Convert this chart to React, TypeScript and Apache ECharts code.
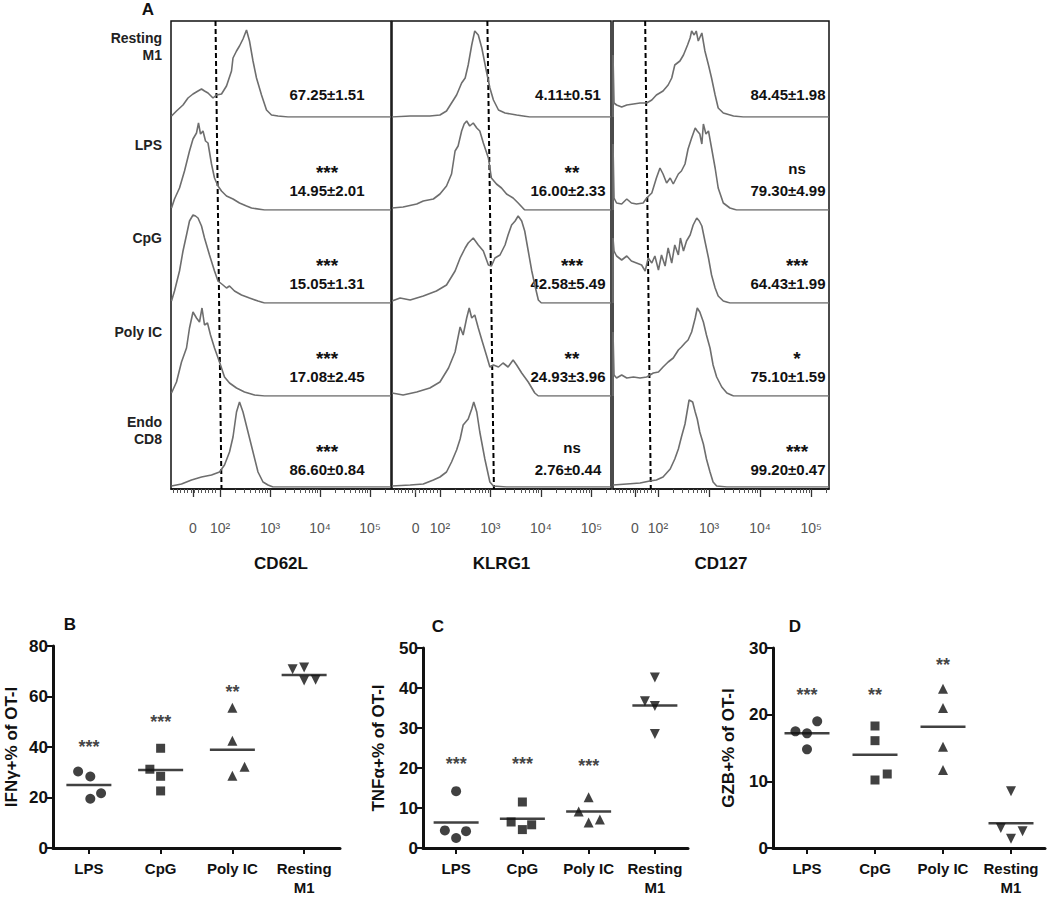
import React, { useEffect, useRef } from 'react';
import * as echarts from 'echarts';

// ---------- Panel A data (x in decades: 2 = 10^2 ... ; y = event count, arbitrary) ----------
const ROW_NAMES = [['Resting', 'M1'], ['LPS'], ['CpG'], ['Poly IC'], ['Endo', 'CD8']];
const MARKERS = ['CD62L', 'KLRG1', 'CD127'];

const HIST_CD62L = [
  [[1.03,1],[1.13,6],[1.26,12],[1.36,19],[1.46,23],[1.56,26],[1.63,28],[1.69,26],[1.76,24],[1.86,19],[1.93,22],[2.03,23],[2.13,31],[2.23,46],[2.26,59],[2.33,66],[2.39,71],[2.46,78],[2.53,87],[2.59,76],[2.66,56],[2.73,39],[2.83,22],[2.93,7],[3.03,2],[3.16,1],[3.36,0],[5.42,0]],
  [[1.03,2],[1.09,11],[1.19,22],[1.29,39],[1.39,59],[1.46,71],[1.53,77],[1.57,87],[1.61,76],[1.66,79],[1.71,69],[1.76,67],[1.83,46],[1.89,32],[1.96,24],[2.03,19],[2.13,14],[2.26,11],[2.39,7],[2.53,4],[2.63,2],[2.89,0],[5.42,0]],
  [[1.03,2],[1.09,12],[1.19,32],[1.26,52],[1.33,68],[1.39,82],[1.46,88],[1.51,87],[1.56,85],[1.63,77],[1.69,65],[1.79,48],[1.89,32],[1.96,22],[2.06,18],[2.13,15],[2.19,17],[2.29,12],[2.43,8],[2.59,5],[2.76,2],[2.89,0],[5.42,0]],
  [[1.03,3],[1.13,14],[1.23,34],[1.33,48],[1.39,68],[1.46,84],[1.53,78],[1.59,74],[1.64,88],[1.69,71],[1.75,73],[1.81,61],[1.89,48],[1.99,34],[2.09,19],[2.19,13],[2.33,8],[2.49,4],[2.69,1],[2.89,0],[5.42,0]],
  [[1.03,1],[1.23,3],[1.43,7],[1.63,10],[1.83,12],[1.99,15],[2.09,22],[2.19,35],[2.26,50],[2.33,75],[2.39,85],[2.46,75],[2.56,55],[2.66,35],[2.76,15],[2.86,5],[2.96,2],[3.06,0],[5.42,0]],
];
const HIST_KLRG1 = [
  [[1.05,0],[1.41,1],[1.80,1],[2.0,2],[2.13,6],[2.23,14],[2.33,22],[2.43,34],[2.50,39],[2.56,52],[2.63,72],[2.69,86],[2.76,82],[2.83,69],[2.92,46],[2.99,29],[3.06,17],[3.16,7],[3.29,4],[3.52,2],[3.78,0],[5.39,0]],
  [[1.05,2],[1.27,3],[1.54,6],[1.67,9],[1.87,11],[2.0,16],[2.13,24],[2.23,36],[2.30,59],[2.36,64],[2.43,79],[2.48,86],[2.53,89],[2.59,84],[2.66,87],[2.73,82],[2.79,79],[2.86,67],[2.96,52],[3.02,32],[3.12,26],[3.22,22],[3.32,16],[3.45,12],[3.55,7],[3.68,0],[5.39,0]],
  [[1.05,2],[1.21,5],[1.41,3],[1.67,7],[1.93,12],[2.13,18],[2.30,32],[2.40,45],[2.50,55],[2.56,60],[2.66,65],[2.76,58],[2.86,52],[2.96,38],[3.02,37],[3.09,45],[3.19,48],[3.29,58],[3.35,68],[3.42,78],[3.49,82],[3.55,87],[3.62,82],[3.68,72],[3.75,52],[3.82,32],[3.88,18],[3.95,3],[4.01,0],[5.39,0]],
  [[1.05,3],[1.27,1],[1.54,4],[1.80,8],[2.0,14],[2.17,28],[2.30,44],[2.40,69],[2.46,61],[2.53,78],[2.58,88],[2.63,78],[2.69,81],[2.76,68],[2.83,56],[2.92,41],[2.99,29],[3.06,31],[3.16,29],[3.25,33],[3.35,29],[3.45,36],[3.52,31],[3.62,23],[3.75,14],[3.88,3],[3.95,0],[5.39,0]],
  [[1.05,1],[1.41,2],[1.67,3],[1.87,7],[2.0,10],[2.13,15],[2.23,25],[2.33,37],[2.40,48],[2.46,62],[2.56,68],[2.63,78],[2.67,85],[2.73,75],[2.79,55],[2.89,28],[2.99,5],[3.06,1],[3.32,0],[5.39,0]],
];
const HIST_CD127 = [
  [[1.12,0],[1.12,62],[1.14,14],[1.19,12],[1.29,10],[1.39,12],[1.52,13],[1.65,14],[1.78,14],[1.88,17],[1.97,22],[2.10,26],[2.20,32],[2.27,39],[2.33,52],[2.43,56],[2.50,62],[2.58,72],[2.63,79],[2.66,86],[2.71,82],[2.75,86],[2.79,76],[2.86,84],[2.92,66],[2.99,52],[3.05,39],[3.12,22],[3.18,9],[3.28,4],[3.48,1],[3.67,0],[5.35,0]],
  [[1.12,0],[1.12,66],[1.14,12],[1.19,7],[1.29,6],[1.39,11],[1.48,7],[1.58,6],[1.71,7],[1.78,12],[1.88,17],[1.97,32],[2.04,42],[2.10,36],[2.17,27],[2.24,32],[2.30,26],[2.40,36],[2.46,39],[2.53,46],[2.59,61],[2.66,72],[2.73,82],[2.77,79],[2.82,76],[2.86,66],[2.89,86],[2.94,76],[2.99,79],[3.05,62],[3.12,42],[3.18,22],[3.28,7],[3.41,2],[3.54,0],[5.35,0]],
  [[1.12,0],[1.12,65],[1.14,52],[1.19,47],[1.29,43],[1.39,47],[1.48,42],[1.58,40],[1.68,38],[1.75,32],[1.81,45],[1.88,40],[1.94,47],[2.01,33],[2.07,48],[2.14,37],[2.20,55],[2.27,40],[2.33,58],[2.40,48],[2.44,65],[2.50,52],[2.56,62],[2.63,68],[2.69,78],[2.76,85],[2.81,82],[2.86,77],[2.92,62],[2.99,45],[3.05,28],[3.12,15],[3.18,7],[3.28,2],[3.41,0],[5.35,0]],
  [[1.12,0],[1.12,64],[1.14,21],[1.19,18],[1.29,21],[1.39,18],[1.52,19],[1.65,18],[1.78,19],[1.91,23],[2.01,24],[2.10,29],[2.20,34],[2.30,38],[2.40,46],[2.46,49],[2.53,53],[2.59,56],[2.66,64],[2.73,78],[2.77,88],[2.82,84],[2.89,74],[2.95,61],[3.02,48],[3.08,31],[3.15,19],[3.25,9],[3.35,3],[3.48,0],[5.35,0]],
  [[1.12,2],[1.39,3],[1.65,4],[1.84,6],[1.97,7],[2.10,10],[2.24,18],[2.33,28],[2.40,38],[2.46,50],[2.53,63],[2.58,78],[2.61,87],[2.68,85],[2.73,75],[2.77,68],[2.82,55],[2.89,43],[2.95,28],[3.02,15],[3.08,5],[3.15,1],[3.35,0],[5.35,0]],
];
const HISTS = [HIST_CD62L, HIST_KLRG1, HIST_CD127];

// gate line: [decade at top, 1] -> [decade at bottom, 0]
const GATES = [
  [[1.91, 1], [2.03, 0]],
  [[2.94, 1], [3.07, 0]],
  [[1.75, 1], [1.86, 0]],
];

const STAT_VALUES = [
  ['67.25±1.51', '14.95±2.01', '15.05±1.31', '17.08±2.45', '86.60±0.84'],
  ['4.11±0.51', '16.00±2.33', '42.58±5.49', '24.93±3.96', '2.76±0.44'],
  ['84.45±1.98', '79.30±4.99', '64.43±1.99', '75.10±1.59', '99.20±0.47'],
];
const STAT_SIG = [
  ['', '***', '***', '***', '***'],
  ['', '**', '***', '**', 'ns'],
  ['', 'ns', '***', '*', '***'],
];
const DECADE_LABELS: Record<number, string> = { 2: '10²', 3: '10³', 4: '10⁴', 5: '10⁵' };

// ---------- Panels B-D data ----------
const CATS = ['LPS', 'CpG', 'Poly IC', 'Resting\nM1'];
const IFNG = [[30.3, 28.3, 19.5, 21.7], [31.2, 39.5, 28.4, 22.6], [55.5, 42.5, 32.2, 28.6], [70.8, 71.5, 66.3, 66.6]];
const IFNG_MEAN = [25.0, 30.9, 38.9, 68.5];
const IFNG_SIG = ['***', '***', '**', ''];
const IFNG_SIG_Y = [41.4, 51.3, 63.2, 0];

const TNF = [[14.2, 4.4, 2.5, 4.2], [11.5, 6.5, 4.6, 5.8], [12.7, 9.1, 6.4, 7.1], [42.6, 36.7, 35.5, 28.5]];
const TNF_MEAN = [6.4, 7.3, 9.1, 35.6];
const TNF_SIG = ['***', '***', '***', ''];
const TNF_SIG_Y = [22.0, 22.0, 21.6, 0];

const GZB = [[17.5, 17.2, 19.0, 14.8], [18.3, 16.1, 10.2, 11.1], [23.9, 21.0, 15.2, 11.7], [8.5, 3.0, 1.4, 2.5]];
const GZB_MEAN = [17.2, 14.0, 18.2, 3.7];
const GZB_SIG = ['***', '**', '**', ''];
const GZB_SIG_Y = [23.6, 23.6, 28.0, 0];

// ---------- layout (positions / styles) ----------
const FONT = '"Liberation Sans", Arial, Helvetica, sans-serif';
const A_TOP = 21;
const A_BOTTOM = 489;
const ROW_BASE = [117, 210, 303, 396, 487];
const ROW_H = 95;
const A_COLS = [
  { left: 171, width: 220, min: 1.02, max: 5.42, zero: 1.46, textX: 327, sigX: 327 },
  { left: 392, width: 219, min: 1.05, max: 5.39, zero: 1.52, textX: 568, sigX: 572 },
  { left: 613, width: 216, min: 1.12, max: 5.35, zero: 1.55, textX: 788, sigX: 797 },
];
const ROW_LABEL_Y = [[38, 55], [145], [238], [332], [422, 439]];

const JITTER = [
  [[-0.15, 0.02, 0.02, 0.17], [-0.15, 0, 0, 0], [0, 0, 0.17, 0], [-0.16, 0, 0, 0.16]],
  [[0, -0.17, 0, 0.15], [0, -0.17, 0, 0.14], [0, -0.15, 0, 0.17], [0, -0.15, 0, 0]],
  [[-0.17, 0, 0.15, 0], [0, 0, 0, 0.18], [0, 0, 0, 0], [0, -0.15, 0, 0.17]],
];
const SYMBOLS = [
  { symbol: 'circle', size: 10, rotate: 0 },
  { symbol: 'rect', size: 9, rotate: 0 },
  { symbol: 'triangle', size: 10, rotate: 0 },
  { symbol: 'triangle', size: 10, rotate: 180 },
];
const PANELS = [
  { letter: 'B', values: IFNG, mean: IFNG_MEAN, sig: IFNG_SIG, sigY: IFNG_SIG_Y, max: 80, interval: 20, name: 'IFNγ+% of OT-I',
    left: 53, top: 646, width: 287, height: 209, nameGap: 33, letterX: 70 },
  { letter: 'C', values: TNF, mean: TNF_MEAN, sig: TNF_SIG, sigY: TNF_SIG_Y, max: 50, interval: 10, name: 'TNFα+% of OT-I',
    left: 423, top: 648, width: 265, height: 205, nameGap: 36, letterX: 438 },
  { letter: 'D', values: GZB, mean: GZB_MEAN, sig: GZB_SIG, sigY: GZB_SIG_Y, max: 30, interval: 10, name: 'GZB+% of OT-I',
    left: 773, top: 648, width: 272, height: 204, nameGap: 36, letterX: 795 },
];

function buildOption() {
  const grid: any[] = [];
  const xAxis: any[] = [];
  const yAxis: any[] = [];
  const series: any[] = [];
  const graphic: any[] = [];

  A_COLS.forEach((col, c) => {
    const gi = grid.length;
    grid.push({ left: col.left, top: A_TOP, width: col.width, height: A_BOTTOM - A_TOP,
      show: true, borderColor: '#111', borderWidth: 1.5, backgroundColor: 'transparent' });
    const majors = [col.zero, 2, 3, 4, 5];
    const minors: number[] = [];
    for (let n = 2; n <= 5; n++) for (let k = 2; k <= 9; k++) {
      const v = n + Math.log10(k);
      if (v < col.max - 0.01) minors.push(v);
    }
    for (let v = col.min + 0.05; v < 1.97; v += 0.07) minors.push(v);
    const xi = xAxis.length;
    xAxis.push({
      gridIndex: gi, type: 'value', min: col.min, max: col.max, position: 'bottom',
      axisLine: { show: true, onZero: false, lineStyle: { color: '#111', width: 1.5 } },
      axisTick: { show: true, customValues: majors, length: 8, lineStyle: { color: '#333', width: 1.3 } },
      axisLabel: {
        show: true, customValues: majors, margin: 32, color: '#555', fontSize: 14, fontFamily: FONT,
        formatter: (v: number) => (Math.abs(v - col.zero) < 1e-6 ? '0' : DECADE_LABELS[Math.round(v)] || ''),
      },
      splitLine: { show: false },
      name: MARKERS[c], nameLocation: 'middle', nameGap: 66,
      nameTextStyle: { fontWeight: 'bold', fontSize: 17, color: '#111', fontFamily: FONT },
    });
    xAxis.push({
      gridIndex: gi, type: 'value', min: col.min, max: col.max, position: 'bottom',
      axisLine: { show: false, onZero: false },
      axisTick: { show: true, customValues: minors, length: 4, lineStyle: { color: '#555', width: 1 } },
      axisLabel: { show: false }, splitLine: { show: false },
    });
    const yi = yAxis.length;
    yAxis.push({ gridIndex: gi, type: 'value', min: 0, max: 1, show: false });
    series.push({ type: 'line', xAxisIndex: xi, yAxisIndex: yi, data: GATES[c], symbol: 'none', silent: true,
      lineStyle: { type: [5, 3], color: '#000', width: 2 } });

    HISTS[c].forEach((h, r) => {
      const g = grid.length;
      grid.push({ left: col.left, top: ROW_BASE[r] - ROW_H, width: col.width, height: ROW_H });
      const x = xAxis.length;
      xAxis.push({ gridIndex: g, type: 'value', min: col.min, max: col.max, show: false });
      const y = yAxis.length;
      yAxis.push({ gridIndex: g, type: 'value', min: 0, max: ROW_H, show: false });
      series.push({ type: 'line', xAxisIndex: x, yAxisIndex: y, data: h, symbol: 'none', silent: true,
        lineStyle: { color: '#6e6e6e', width: 1.6 } });

      // stats text
      const valY = (r === 0 ? A_TOP : ROW_BASE[r - 1]) + 73;
      graphic.push({ type: 'text', x: col.textX, y: valY,
        style: { text: STAT_VALUES[c][r], font: `bold 15px ${FONT}`, fill: '#111', align: 'center', verticalAlign: 'middle' } });
      const sig = STAT_SIG[c][r];
      if (sig) {
        const isNs = sig === 'ns';
        graphic.push({ type: 'text', x: col.sigX, y: valY - (isNs ? 22 : 18),
          style: { text: sig, font: `bold ${isNs ? 15 : 19}px ${FONT}`, fill: '#111', align: 'center', verticalAlign: 'middle' } });
      }
    });
  });

  // row labels
  ROW_NAMES.forEach((lines, r) => {
    lines.forEach((t, i) => {
      graphic.push({ type: 'text', x: 162, y: ROW_LABEL_Y[r][i],
        style: { text: t, font: `bold 14px ${FONT}`, fill: '#222', align: 'right', verticalAlign: 'middle' } });
    });
  });
  graphic.push({ type: 'text', x: 148, y: 9,
    style: { text: 'A', font: `bold 17px ${FONT}`, fill: '#111', align: 'center', verticalAlign: 'middle' } });

  PANELS.forEach((p, pi) => {
    const gi = grid.length;
    grid.push({ left: p.left, top: p.top, width: p.width, height: p.height });
    xAxis.push({
      gridIndex: gi, type: 'category', data: CATS, boundaryGap: true, position: 'bottom',
      axisLine: { show: true, onZero: false, lineStyle: { color: '#111', width: 3 } },
      axisTick: { show: true, alignWithLabel: true, length: 6, lineStyle: { color: '#111', width: 2 } },
      axisLabel: { interval: 0, color: '#111', fontWeight: 'bold', fontSize: 15, lineHeight: 19, margin: 11, fontFamily: FONT },
      splitLine: { show: false },
    });
    const vx = xAxis.length;
    xAxis.push({ gridIndex: gi, type: 'value', min: -0.5, max: 3.5, show: false, axisLine: { onZero: false } });
    const yi = yAxis.length;
    yAxis.push({
      gridIndex: gi, type: 'value', min: 0, max: p.max, interval: p.interval, position: 'left',
      axisLine: { show: true, onZero: false, lineStyle: { color: '#111', width: 3 } },
      axisTick: { show: true, length: 6, lineStyle: { color: '#111', width: 2 } },
      axisLabel: { color: '#111', fontWeight: 'bold', fontSize: 17, margin: 5, fontFamily: FONT },
      splitLine: { show: false },
      name: p.name, nameLocation: 'middle', nameGap: p.nameGap, nameRotate: 90,
      nameTextStyle: { fontWeight: 'bold', fontSize: 17, color: '#111', fontFamily: FONT },
    });
    p.values.forEach((vals, g) => {
      const s = SYMBOLS[g];
      series.push({
        type: 'scatter', xAxisIndex: vx, yAxisIndex: yi, silent: true,
        symbol: s.symbol, symbolSize: s.size, symbolRotate: s.rotate,
        itemStyle: { color: '#111' },
        data: vals.map((v, i) => [g + JITTER[pi][g][i], v]),
      });
    });
    series.push({
      type: 'scatter', xAxisIndex: vx, yAxisIndex: yi, silent: true,
      symbol: 'rect', symbolSize: [45, 2.5], itemStyle: { color: '#111' },
      data: p.mean.map((m, g) => [g, m]),
    });
    series.push({
      type: 'scatter', xAxisIndex: vx, yAxisIndex: yi, silent: true,
      symbol: 'circle', symbolSize: 1, itemStyle: { color: 'rgba(0,0,0,0)' },
      label: { show: true, position: 'inside', formatter: '{b}', color: '#111', fontWeight: 'bold', fontSize: 18, fontFamily: FONT, offset: [0, 4] },
      data: p.sig.map((s, g) => ({ name: s, value: [g, p.sigY[g]] })).filter((d) => d.name !== ''),
    });
    graphic.push({ type: 'text', x: p.letterX, y: p.top - 22,
      style: { text: p.letter, font: `bold 17px ${FONT}`, fill: '#111', align: 'center', verticalAlign: 'middle' } });
  });

  return { animation: false, backgroundColor: '#fff', grid, xAxis, yAxis, series, graphic };
}

export default function App() {
  const ref = useRef<HTMLDivElement>(null);
  useEffect(() => {
    if (!ref.current) return;
    const chart = echarts.init(ref.current, undefined, { renderer: 'svg' });
    chart.setOption(buildOption() as any);
    return () => chart.dispose();
  }, []);
  return <div ref={ref} style={{ position: 'absolute', left: 0, top: 0, width: 1050, height: 897 }} />;
}
